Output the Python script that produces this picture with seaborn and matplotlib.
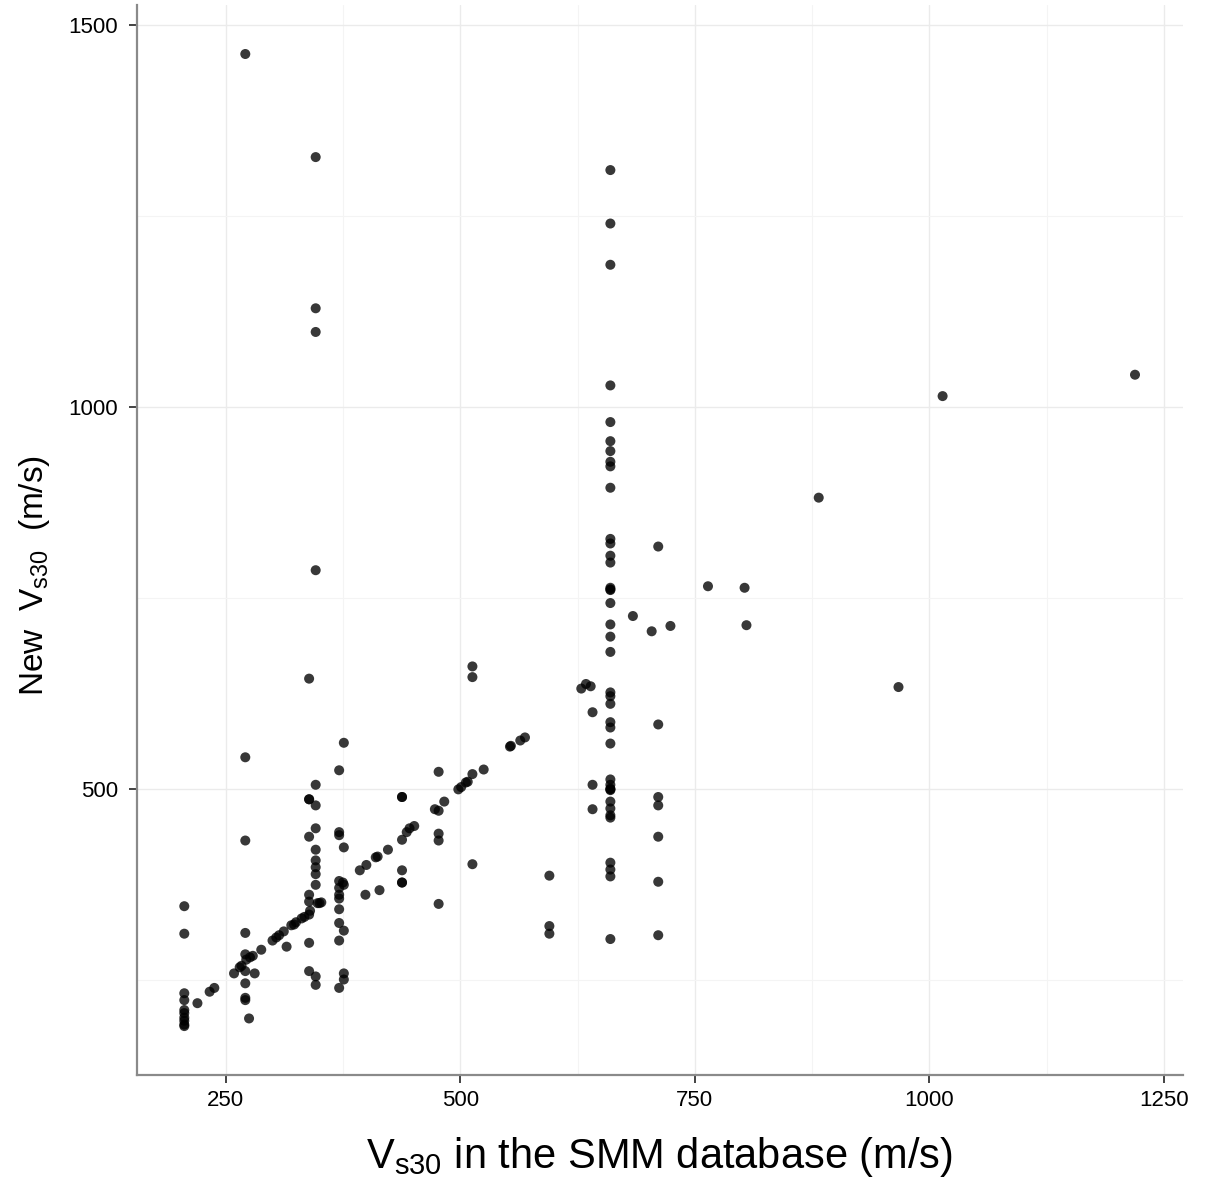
import matplotlib
matplotlib.use("Agg")
import matplotlib.pyplot as plt
from matplotlib import font_manager
from matplotlib.ticker import MultipleLocator
import pandas as pd
import seaborn as sns

# Vs30 in the SMM database (x) vs new Vs30 (y)
smm_vs30 = [
    # upper outliers
    271, 346, 346, 346, 346, 339,
    # x ~ 206 column
    206, 206, 206, 206, 206, 206, 206, 206, 206, 206,
    # x ~ 271 column
    271, 271, 271, 271, 271, 271, 271, 271, 275, 281,
    # points along the 1:1 trend
    220, 233, 238, 259, 265, 267, 272, 276, 279, 288, 300, 304, 307, 312,
    320, 323, 325, 331, 334, 340, 348, 350, 352, 375, 376, 393, 400, 410,
    412, 423, 443, 446, 451, 483, 498, 501, 506, 508, 525, 553, 554, 564, 569,
    # x ~ 339 column
    339, 339, 339, 339, 339, 339, 339, 339,
    # x ~ 346 column
    346, 346, 346, 346, 346, 346, 346, 346, 346, 346, 315,
    # x ~ 371 / 376 columns
    371, 371, 371, 371, 371, 371, 371, 371, 371, 371, 371,
    376, 376, 376, 376, 376,
    399, 414,
    # x ~ 438 column
    438, 438, 438, 438, 438, 438,
    # x ~ 477 column
    477, 473, 477, 477, 477, 477,
    # x ~ 513 column
    513, 513, 513, 513,
    # x ~ 595
    595, 595, 595,
    629, 634, 639, 641, 641, 641,
    684, 704, 724,
    # x ~ 660 column
    660, 660, 660, 660, 660, 660, 660, 660, 660, 660,
    660, 660, 660, 660, 660, 660, 660, 660, 660, 660,
    660, 660, 660, 660, 660, 660, 660, 660, 660, 660,
    660, 660, 660, 660, 660, 660, 660, 660, 660, 660,
    # x ~ 711 column
    711, 711, 711, 711, 711, 711, 711,
    # right side
    764, 803, 805, 882, 967, 1014, 1219,
]

new_vs30 = [
    1462, 1327, 1129, 1098, 786, 644,
    346, 310, 232, 223, 210, 206, 200, 196, 191, 189,
    541, 432, 311, 283, 261, 245, 226, 223, 199, 258,
    219, 234, 239, 258, 266, 268, 276, 279, 281, 289, 301, 305, 308, 313,
    321, 322, 325, 330, 332, 340, 350, 350, 351, 377, 374, 393, 400, 410,
    411, 420, 443, 448, 451, 483, 499, 502, 508, 509, 525, 555, 556, 563, 567,
    486, 486, 437, 361, 352, 335, 298, 261,
    505, 478, 448, 420, 406, 397, 388, 374, 254, 243, 293,
    524, 443, 439, 379, 370, 361, 356, 342, 324, 301, 239,
    560, 423, 314, 258, 250,
    361, 367,
    489, 489, 433, 393, 377, 377,
    522, 473, 471, 441, 432, 349,
    660, 646, 519, 401,
    386, 320, 310,
    631, 637, 634, 600, 505, 473,
    726, 706, 713,
    1310, 1240, 1186, 1028, 980, 955, 942, 928, 922, 894,
    827, 821, 805, 796, 763, 761, 760, 743, 715, 699,
    679, 626, 621, 611, 587, 580, 559, 512, 505, 500,
    499, 498, 483, 474, 465, 462, 403, 394, 385, 303,
    817, 584, 489, 478, 437, 378, 308,
    765, 763, 714, 881, 633, 1014, 1042,
]

df = pd.DataFrame({"smm": smm_vs30, "new": new_vs30})

sns.set_theme(style="white")
names = {f.name for f in font_manager.fontManager.ttflist}
family = "Liberation Sans Narrow" if "Liberation Sans Narrow" in names else "Liberation Sans"
plt.rcParams["font.family"] = [family, "DejaVu Sans"]
plt.rcParams["mathtext.fontset"] = "custom"
plt.rcParams["mathtext.rm"] = family
plt.rcParams["mathtext.it"] = family
plt.rcParams["text.color"] = "black"
plt.rcParams["axes.labelcolor"] = "black"

fig = plt.figure(figsize=(12.07, 11.94), dpi=100)
ax = fig.add_axes([0.1135, 0.0997, 0.8665, 0.896])

sns.scatterplot(data=df, x="smm", y="new", ax=ax, color="black", alpha=0.78,
                s=52, edgecolor="none", linewidth=0, legend=False)

ax.set_xlim(155.6, 1270)
ax.set_ylim(125, 1526)
ax.set_xticks([250, 500, 750, 1000, 1250])
ax.set_yticks([500, 1000, 1500])
ax.xaxis.set_minor_locator(MultipleLocator(125))
ax.yaxis.set_minor_locator(MultipleLocator(250))
ax.grid(True, which="major", color="#ebebeb", linewidth=1.0)
ax.grid(True, which="minor", color="#f4f4f4", linewidth=0.8)
ax.set_axisbelow(True)

for side in ["top", "right"]:
    ax.spines[side].set_visible(False)
for side in ["left", "bottom"]:
    ax.spines[side].set_color("#8a8a8a")
    ax.spines[side].set_linewidth(1.6)

ax.tick_params(which="major", bottom=True, left=True, direction="out",
               length=5.5, width=1.2, color="#222222", labelsize=16,
               labelcolor="black")
ax.tick_params(axis="x", which="major", pad=5)
ax.tick_params(axis="y", which="major", pad=8)
ax.tick_params(which="minor", length=0)

ax.set_xlabel(r"V$_{\mathrm{s30}}$ in the SMM database (m/s)", fontsize=30)
ax.set_ylabel(r"New  V$_{\mathrm{s30}}$  (m/s)", fontsize=24)
ax.xaxis.set_label_coords(0.5, -0.056)
ax.yaxis.set_label_coords(-0.081, 0.467)

fig.savefig("out.png", dpi=100)
